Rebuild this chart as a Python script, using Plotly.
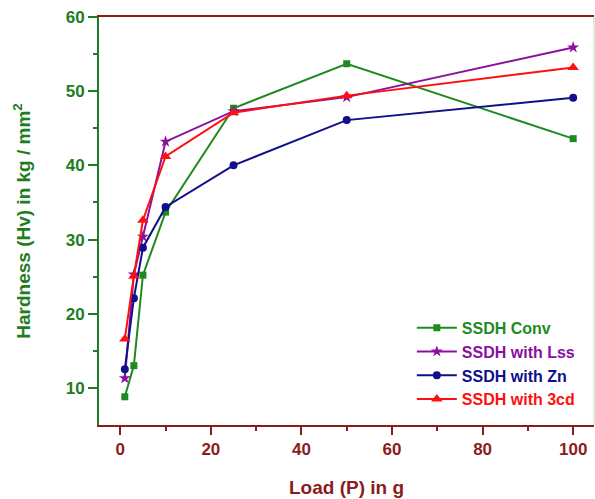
import plotly.graph_objects as go

loads = [1, 3, 5, 10, 25, 50, 100]
conv = [8.8, 13.0, 25.2, 33.7, 47.7, 53.7, 43.6]
lss = [11.3, 25.3, 30.4, 43.2, 47.3, 49.2, 55.9]
zn = [12.5, 22.1, 28.9, 34.4, 40.0, 46.1, 49.1]
cd3 = [16.6, 25.1, 32.6, 41.2, 47.1, 49.4, 53.2]

names = ["SSDH Conv", "SSDH with Lss", "SSDH with Zn", "SSDH with 3cd"]
colors = ["#1f8a1f", "#8b109e", "#10108a", "#ff1010"]
symbols = ["square", "star", "circle", "triangle-up"]
sizes = [7, 9, 8, 10]
series = [conv, lss, zn, cd3]

FONT = "Arial, Liberation Sans, sans-serif"
GREEN = "#1e7d1e"
DRED = "#8b1c1c"

fig = go.Figure()
for nm, col, sym, sz, ys in zip(names, colors, symbols, sizes, series):
    fig.add_trace(go.Scatter(
        x=loads, y=ys, mode="lines+markers",
        name=f"<span style='color:{col}'><b>{nm}</b></span>",
        line=dict(color=col, width=2),
        marker=dict(symbol=sym, size=sz, color=col),
    ))

fig.update_layout(
    width=595, height=499,
    margin=dict(l=99, r=1, t=17, b=74),
    paper_bgcolor="white", plot_bgcolor="white",
    font=dict(family=FONT),
    legend=dict(x=0.632, y=0.28, xanchor="left", yanchor="top",
                bgcolor="rgba(0,0,0,0)", borderwidth=0,
                font=dict(size=16, family=FONT), tracegroupgap=0,
                itemwidth=40),
    showlegend=True,
)
fig.update_xaxes(
    range=[-4.7, 104.6], showgrid=False, zeroline=False,
    showline=True, linecolor=DRED, linewidth=2, mirror=True,
    ticks="outside", ticklen=8, tickwidth=2, tickcolor=DRED,
    tickvals=[0, 20, 40, 60, 80, 100],
    tickfont=dict(size=17, color=DRED, family=FONT, weight="bold"),
    minor=dict(tickvals=[10, 30, 50, 70, 90], ticks="outside", ticklen=4, tickwidth=2, tickcolor=DRED),
    title=dict(text="<b>Load (P) in g</b>", font=dict(size=19, color=DRED, family=FONT), standoff=22),
)
fig.update_yaxes(
    range=[5, 60], showgrid=False, zeroline=False,
    showline=True, linecolor=GREEN, linewidth=2,
    ticks="outside", ticklen=9, tickwidth=2, tickcolor=GREEN,
    tickvals=[10, 20, 30, 40, 50, 60],
    tickfont=dict(size=17, color=GREEN, family=FONT, weight="bold"),
    minor=dict(tickvals=[15, 25, 35, 45, 55], ticks="outside", ticklen=4, tickwidth=2, tickcolor=GREEN),
    title=dict(text="<b>Hardness (Hv) in kg / mm<sup>2</sup></b>", font=dict(size=19, color=GREEN, family=FONT), standoff=30),
)
fig.add_shape(type="line", xref="paper", yref="paper", x0=1, x1=1, y0=0, y1=1,
              line=dict(color="#cfe8cf", width=1.5))

fig.write_html("out.html")
